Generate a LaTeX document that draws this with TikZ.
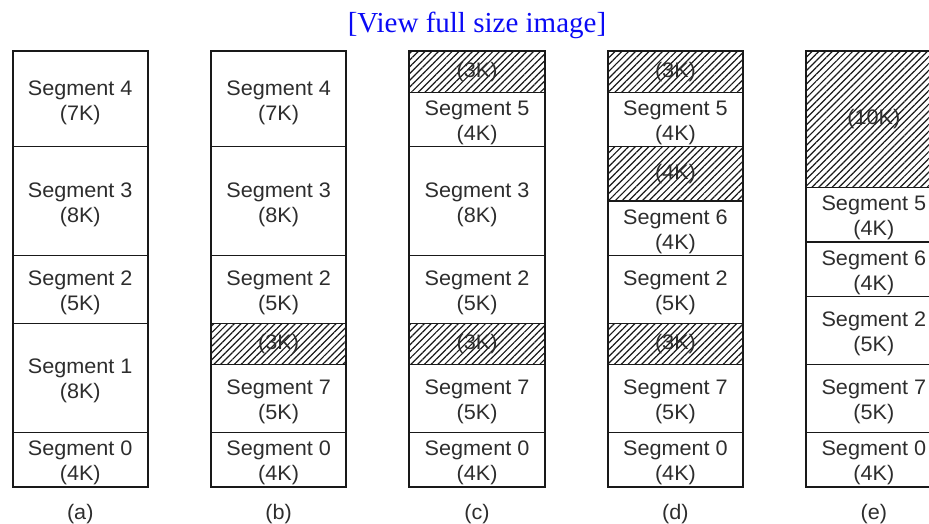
\documentclass[tikz,border=0pt]{standalone}
\usepackage{fontspec}
\setmainfont{Liberation Sans}
\newfontfamily\segfont[FakeStretch=1.03]{Liberation Sans}
\newfontfamily\capfont{Liberation Serif}
\usetikzlibrary{patterns.meta}
\definecolor{txtgray}{RGB}{45,45,45}
\definecolor{linecol}{RGB}{25,25,25}
\definecolor{capblue}{RGB}{10,10,245}
\newcommand\seglab[2]{\raisebox{-3.5pt}[\height][\depth]{\begin{tabular}{@{}c@{}}#1\\#2\end{tabular}}}
\newcommand\segnode[6]{% #1 extra style, #2 name, #3 x, #4 start K, #5 size K, #6 text
  \node[segbox,#1,minimum height=#5*13.6pt] (#2) at (#3,51.5+#4*13.6) {#6};}
\begin{document}
\begin{tikzpicture}[x=1pt,y=-1pt,
  segbox/.style={draw=linecol, line width=1.5pt, minimum width=135.5pt, inner sep=0pt,
    outer sep=0pt, anchor=north, text=txtgray,
    font=\segfont\fontsize{21}{25}\selectfont},
  plain/.style={},
  hatched/.style={pattern={Lines[angle=45,distance=4.8pt,line width=1.2pt]}, pattern color=linecol},
  colframe/.style={draw=linecol, line width=2pt},
  collabel/.style={text=txtgray, inner sep=0pt, font=\segfont\fontsize{21}{25}\selectfont},
  caption/.style={text=capblue, inner sep=0pt, font=\capfont\fontsize{29}{33}\selectfont}]
\useasboundingbox (0,0) rectangle (929,524);
\begin{scope}
\clip (0,0) rectangle (929,524);
\node[caption] (cap) at (477,25) {[View full size image]};
% column a
\segnode{plain}{a4}{80.25}{0}{7}{\seglab{Segment 4}{(7K)}}
\segnode{plain}{a3}{80.25}{7}{8}{\seglab{Segment 3}{(8K)}}
\segnode{plain}{a2}{80.25}{15}{5}{\seglab{Segment 2}{(5K)}}
\segnode{plain}{a1}{80.25}{20}{8}{\seglab{Segment 1}{(8K)}}
\segnode{plain}{a0}{80.25}{28}{4}{\seglab{Segment 0}{(4K)}}
\draw[colframe] (a4.north west) rectangle (a0.south east);
% column b
\segnode{plain}{b4}{278.65}{0}{7}{\seglab{Segment 4}{(7K)}}
\segnode{plain}{b3}{278.65}{7}{8}{\seglab{Segment 3}{(8K)}}
\segnode{plain}{b2}{278.65}{15}{5}{\seglab{Segment 2}{(5K)}}
\segnode{hatched}{bh}{278.65}{20}{3}{(3K)}
\segnode{plain}{b7}{278.65}{23}{5}{\seglab{Segment 7}{(5K)}}
\segnode{plain}{b0}{278.65}{28}{4}{\seglab{Segment 0}{(4K)}}
\draw[colframe] (b4.north west) rectangle (b0.south east);
% column c
\segnode{hatched}{ch1}{477.05}{0}{3}{(3K)}
\segnode{plain}{c5}{477.05}{3}{4}{\seglab{Segment 5}{(4K)}}
\segnode{plain}{c3}{477.05}{7}{8}{\seglab{Segment 3}{(8K)}}
\segnode{plain}{c2}{477.05}{15}{5}{\seglab{Segment 2}{(5K)}}
\segnode{hatched}{ch2}{477.05}{20}{3}{(3K)}
\segnode{plain}{c7}{477.05}{23}{5}{\seglab{Segment 7}{(5K)}}
\segnode{plain}{c0}{477.05}{28}{4}{\seglab{Segment 0}{(4K)}}
\draw[colframe] (ch1.north west) rectangle (c0.south east);
% column d
\segnode{hatched}{dh1}{675.45}{0}{3}{(3K)}
\segnode{plain}{d5}{675.45}{3}{4}{\seglab{Segment 5}{(4K)}}
\segnode{hatched}{dh2}{675.45}{7}{4}{(4K)}
\segnode{plain}{d6}{675.45}{11}{4}{\seglab{Segment 6}{(4K)}}
\segnode{plain}{d2}{675.45}{15}{5}{\seglab{Segment 2}{(5K)}}
\segnode{hatched}{dh3}{675.45}{20}{3}{(3K)}
\segnode{plain}{d7}{675.45}{23}{5}{\seglab{Segment 7}{(5K)}}
\segnode{plain}{d0}{675.45}{28}{4}{\seglab{Segment 0}{(4K)}}
\draw[colframe] (dh1.north west) rectangle (d0.south east);
% column e
\segnode{hatched}{eh}{873.85}{0}{10}{(10K)}
\segnode{plain}{e5}{873.85}{10}{4}{\seglab{Segment 5}{(4K)}}
\segnode{plain}{e6}{873.85}{14}{4}{\seglab{Segment 6}{(4K)}}
\segnode{plain}{e2}{873.85}{18}{5}{\seglab{Segment 2}{(5K)}}
\segnode{plain}{e7}{873.85}{23}{5}{\seglab{Segment 7}{(5K)}}
\segnode{plain}{e0}{873.85}{28}{4}{\seglab{Segment 0}{(4K)}}
\draw[colframe] (eh.north west) rectangle (e0.south east);
% labels
\node[collabel] (la) at (80.25,514.5) {(a)};
\node[collabel] (lb) at (278.65,514.5) {(b)};
\node[collabel] (lc) at (477.05,514.5) {(c)};
\node[collabel] (ld) at (675.45,514.5) {(d)};
\node[collabel] (le) at (873.85,514.5) {(e)};
\end{scope}
\end{tikzpicture}
\end{document}
